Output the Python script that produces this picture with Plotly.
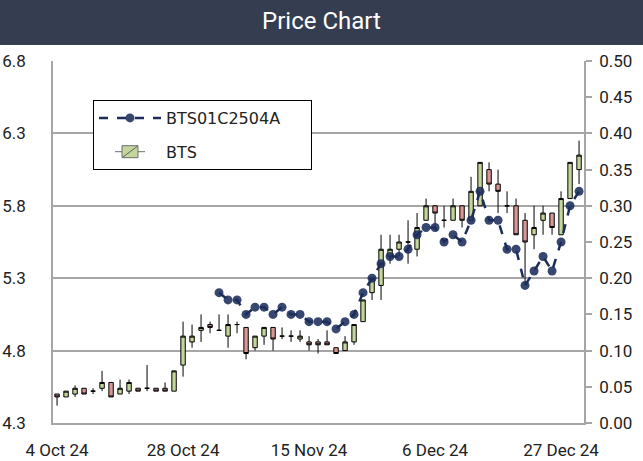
import plotly.graph_objects as go

dates = ["2024-10-04","2024-10-07","2024-10-08","2024-10-09","2024-10-10","2024-10-11",
         "2024-10-15","2024-10-16","2024-10-17","2024-10-18","2024-10-21","2024-10-22",
         "2024-10-24","2024-10-25","2024-10-28","2024-10-29","2024-10-30","2024-10-31",
         "2024-11-01","2024-11-04","2024-11-05","2024-11-06","2024-11-07","2024-11-08",
         "2024-11-11","2024-11-12","2024-11-13","2024-11-14","2024-11-15","2024-11-18",
         "2024-11-19","2024-11-20","2024-11-21","2024-11-22","2024-11-25","2024-11-26",
         "2024-11-27","2024-11-28","2024-11-29","2024-12-02","2024-12-03","2024-12-04",
         "2024-12-06","2024-12-09","2024-12-11","2024-12-12","2024-12-13","2024-12-16",
         "2024-12-17","2024-12-18","2024-12-19","2024-12-20","2024-12-23","2024-12-24",
         "2024-12-25","2024-12-26","2024-12-27","2024-12-30","2025-01-02"]

bts_open = [4.50,4.48,4.50,4.54,4.52,4.54,4.58,4.50,4.52,4.54,4.54,4.54,4.54,4.52,
            4.70,4.86,4.94,4.98,4.94,4.90,4.98,4.96,4.82,4.90,4.96,4.90,4.90,4.88,
            4.86,4.86,4.86,4.82,4.80,4.86,5.00,5.20,5.25,5.45,5.50,5.55,5.50,5.70,
            5.80,5.70,5.70,5.80,5.70,5.80,6.05,5.95,5.80,5.80,5.70,5.60,5.70,5.75,
            5.60,5.85,6.05]
bts_high = [4.50,4.52,4.56,4.54,4.54,4.66,4.58,4.60,4.60,4.54,4.70,4.54,4.58,4.66,
            5.00,4.98,5.05,5.00,5.05,5.05,5.00,4.96,4.90,4.96,4.96,4.96,4.94,4.94,
            4.90,4.88,4.94,4.82,4.90,4.98,5.15,5.30,5.60,5.60,5.60,5.70,5.75,5.85,
            5.80,5.80,5.85,5.80,6.00,6.10,6.10,6.05,5.90,5.85,5.75,5.80,5.80,5.75,
            5.90,6.10,6.25]
bts_low = [4.42,4.48,4.48,4.50,4.50,4.52,4.48,4.50,4.50,4.52,4.52,4.52,4.52,4.52,
           4.62,4.82,4.86,4.92,4.94,4.82,4.92,4.74,4.80,4.84,4.80,4.88,4.86,4.86,
           4.80,4.78,4.84,4.78,4.80,4.84,5.00,5.15,5.15,5.40,5.45,5.40,5.45,5.70,
           5.65,5.65,5.70,5.65,5.70,5.80,5.90,5.75,5.75,5.60,5.25,5.50,5.60,5.60,
           5.60,5.85,5.95]
bts_close = [4.48,4.52,4.54,4.50,4.52,4.58,4.48,4.54,4.58,4.52,4.54,4.52,4.52,4.66,
             4.90,4.90,4.96,4.96,4.94,4.98,4.98,4.78,4.90,4.96,4.88,4.90,4.90,4.90,
             4.84,4.84,4.84,4.78,4.86,4.98,5.15,5.30,5.50,5.50,5.55,5.55,5.65,5.80,
             5.75,5.70,5.80,5.70,5.90,6.10,5.95,5.90,5.80,5.60,5.55,5.65,5.75,5.65,
             5.85,6.10,6.15]

warrant = [None]*18 + [0.18,0.17,0.17,0.15,0.16,0.16,0.15,0.16,0.15,0.15,
                       0.14,0.14,0.14,0.13,0.14,0.15,0.18,0.20,0.22,0.23,
                       0.23,0.24,0.26,0.27,0.27,0.25,0.26,0.25,0.28,0.32,
                       0.28,0.28,0.24,0.24,0.19,0.21,0.23,0.21,0.25,0.30,0.32]

tick_dates = ["2024-10-04","2024-10-28","2024-11-15","2024-12-06","2024-12-27"]
tick_text = ["4 Oct 24","28 Oct 24","15 Nov 24","6 Dec 24","27 Dec 24"]
left_ticks = [4.3,4.8,5.3,5.8,6.3,6.8]
grid_ticks = [4.8,5.3,5.8,6.3]

W, H = 643, 461
ML, MR, MT, MB = 53, 59, 61, 38
PW, PH = W-ML-MR, H-MT-MB

GRID = "#a6a6a6"
FONT = "Roboto"
PAD = "\u00a0" * 5
UP, DOWN = "#c4d79b", "#d99694"

fig = go.Figure()
fig.add_trace(go.Scatter(
    x=dates, y=warrant, name="BTS01C2504A" + PAD, yaxis="y2", mode="lines+markers",
    line=dict(color="#1c2d5c", width=2.5, dash="dash"),
    marker=dict(symbol="circle", size=9, color="#1c2d5c", opacity=0.88),
    legendgroup="a"))
fig.add_trace(go.Candlestick(
    x=dates, open=bts_open, high=bts_high, low=bts_low, close=bts_close,
    name="BTS", legendgroup="b", showlegend=False,
    increasing=dict(fillcolor=UP, line=dict(color="#000000", width=1)),
    decreasing=dict(fillcolor=DOWN, line=dict(color="#000000", width=1)),
    whiskerwidth=0))
# legend-only entry for BTS (single-colour candle icon, no data drawn)
fig.add_trace(go.Candlestick(
    x=[dates[0]], open=[None], high=[None], low=[None], close=[None],
    name="BTS", legendgroup="b", showlegend=True, hoverinfo="skip",
    increasing=dict(fillcolor=UP, line=dict(color="#6e6e6e", width=1)),
    decreasing=dict(fillcolor=UP, line=dict(color="#6e6e6e", width=1))))
# invisible helper so the grid-only axis is rendered
fig.add_trace(go.Scatter(x=[dates[0]], y=[None], yaxis="y3", showlegend=False,
                         hoverinfo="skip", mode="lines"))

fig.update_layout(
    width=W, height=H,
    margin=dict(l=ML, r=MR, t=MT, b=MB, autoexpand=False),
    paper_bgcolor="white", plot_bgcolor="white",
    font=dict(family=FONT, size=17, color="#222222"),
    title=dict(text="Price Chart", x=0.5, xanchor="center", y=1-21/H, yanchor="middle",
               font=dict(family=FONT, size=24, color="white")),
    showlegend=True,
    legend=dict(x=(93-ML)/PW, y=1-(100-MT)/PH, xanchor="left", yanchor="top",
                bgcolor="white", bordercolor="#000000", borderwidth=1,
                font=dict(family="DejaVu Sans", size=16, color="#222222"),
                traceorder="grouped", tracegroupgap=10, itemwidth=62),
    xaxis=dict(type="category", categoryorder="array", categoryarray=dates,
               range=[-0.45, len(dates)-0.45], tickvals=tick_dates, ticktext=tick_text,
               showgrid=False, showline=True, linecolor=GRID, linewidth=1.5,
               ticks="", ticklabelstandoff=11, rangeslider=dict(visible=False),
               automargin=False, tickfont=dict(family=FONT, size=17)),
    yaxis=dict(range=[4.3, 6.8], tickvals=left_ticks, ticktext=[f"{v:.1f}" for v in left_ticks],
               showgrid=False, zeroline=False, showline=True, linecolor=GRID, linewidth=1.5,
               ticks="", ticklabelstandoff=22, automargin=False,
               tickfont=dict(family=FONT, size=17)),
    yaxis2=dict(range=[0, 0.5], dtick=0.05, tick0=0, tickformat=".2f", overlaying="y",
                side="right", showgrid=False, zeroline=False, showline=True,
                linecolor=GRID, linewidth=1.5, ticks="outside", ticklen=6,
                tickcolor=GRID, tickwidth=1.5, ticklabelstandoff=4, automargin=False,
                tickfont=dict(family=FONT, size=17)),
    yaxis3=dict(range=[4.3, 6.8], tickvals=grid_ticks, overlaying="y", side="left",
                showticklabels=False, showgrid=True, gridcolor=GRID, gridwidth=1.5,
                zeroline=False, showline=False, ticks="", automargin=False),
    shapes=[dict(type="rect", xref="paper", yref="paper",
                 x0=-ML/PW, x1=1+MR/PW, y0=1+(MT-45)/PH, y1=1+MT/PH,
                 fillcolor="#353d50", line=dict(width=0), layer="below")],
)

fig.write_html("out.html", config={"displayModeBar": False},
               post_script="document.body.style.margin='0';")
